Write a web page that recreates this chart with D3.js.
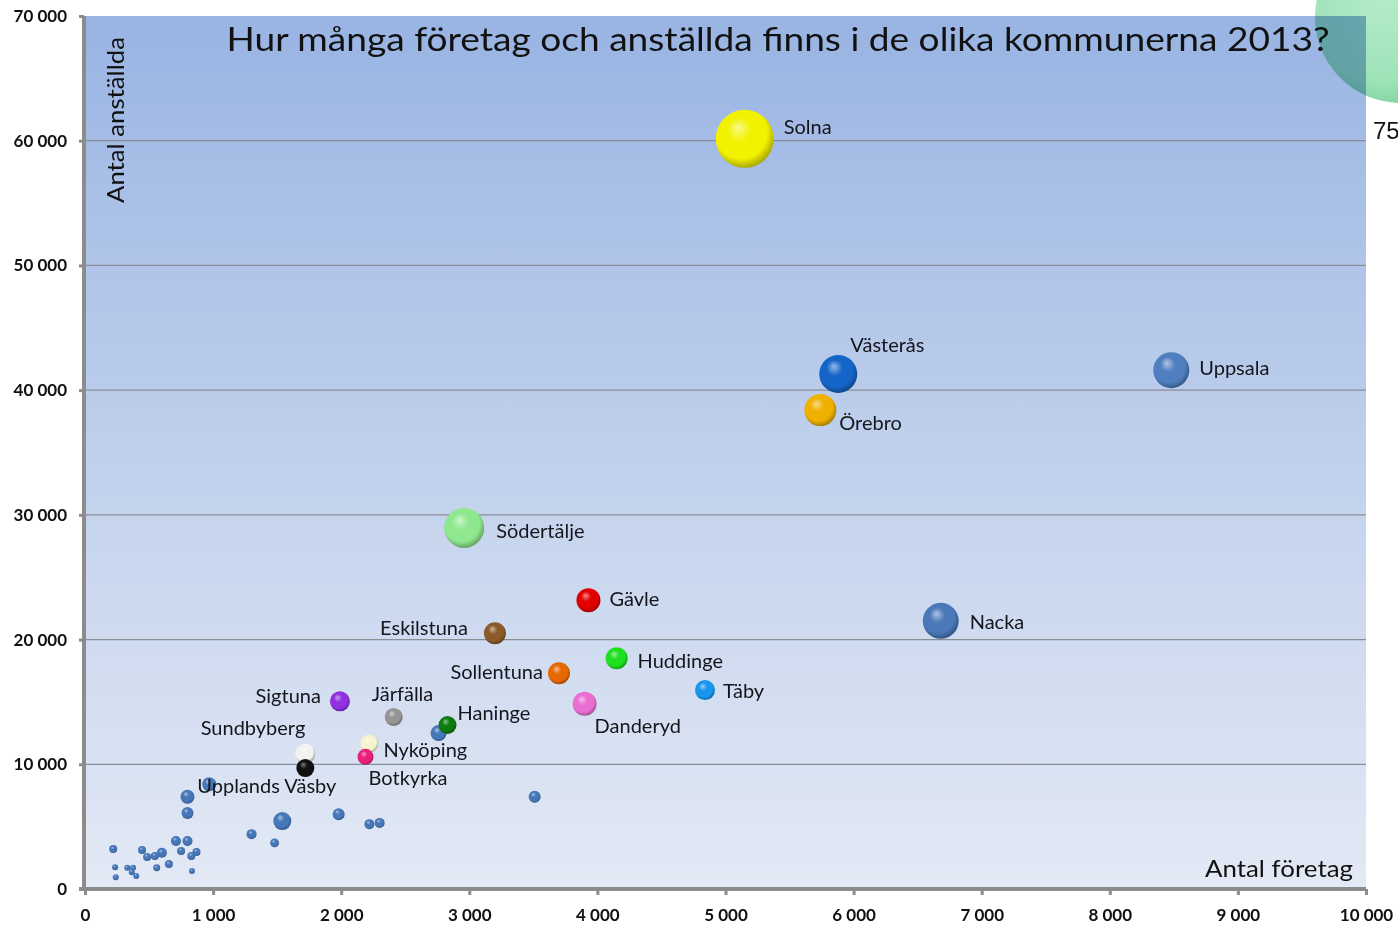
<!DOCTYPE html>
<html>
<head>
<meta charset="utf-8">
<script src="https://cdn.jsdelivr.net/npm/d3@7"></script>
<style>
  body { margin: 0; background: #fff; }
  svg { display: block; }
</style>
</head>
<body>
<div id="chart"></div>
<script>
const width = 1398,
      height = 925;
const margin = {top: 16, right: 32, bottom: 36, left: 85};
const innerWidth = width - margin.left - margin.right,
      innerHeight = height - margin.top - margin.bottom;

// kommuner med etikett
const kommuner = ["Solna", "Uppsala", "Södertälje", "Nacka", "Örebro", "Västerås",
                  "Eskilstuna", "Gävle", "Huddinge", "Sollentuna", "Täby", "Danderyd",
                  "Sigtuna", "Järfälla", "Haninge", "Sundbyberg", "Upplands Väsby",
                  "Nyköping", "Botkyrka"];
const antalForetag = [5150, 8480, 2960, 6680, 5740, 5880,
                      3200, 3930, 4150, 3700, 4840, 3900,
                      1990, 2410, 2830, 1720, 1720,
                      2220, 2190];
const antalAnstallda = [60150, 41600, 28950, 21500, 38400, 41300,
                        20500, 23150, 18500, 17300, 15950, 14850,
                        15050, 13800, 13150, 10850, 9700,
                        11650, 10600];
const storlek = [841, 324, 400, 324, 256, 361,
                 121, 144, 121, 121, 100, 144,
                 100, 81, 81, 100, 81,
                 81, 64];
const farger = ["#f2f200", "#4f7fc0", "#8fe88f", "#4a78b8", "#f0b000", "#1565c8",
                "#8a5a2a", "#e00000", "#1ee01e", "#e66800", "#1896ee", "#ea6ed2",
                "#9030e0", "#959595", "#0f7a0f", "#f2f2f2", "#111111",
                "#f6f4cc", "#e8207c"];

// övriga kommuner utan etikett
const ovrigaForetag = [2760, 970, 800, 800, 1540, 1980, 2220, 2300, 3510, 1300, 1480,
                       710, 800, 750, 870, 830, 600, 545, 485, 445, 220, 655, 560,
                       235, 240, 330, 375, 365, 400, 835];
const ovrigaAnstallda = [12500, 8400, 7400, 6100, 5450, 6000, 5200, 5300, 7400, 4400, 3700,
                         3850, 3850, 3050, 2970, 2650, 2900, 2650, 2570, 3130, 3200, 2000, 1700,
                         1750, 950, 1700, 1700, 1350, 1050, 1450];
const ovrigaStorlek = [64, 49, 49, 36, 81, 36, 25, 25, 36, 25, 20,
                       25, 25, 16, 16, 16, 25, 16, 16, 16, 16, 16, 12,
                       9, 9, 9, 9, 9, 9, 9];

const xTicks = [0, 1000, 2000, 3000, 4000, 5000, 6000, 7000, 8000, 9000, 10000];
const yTicks = [0, 10000, 20000, 30000, 40000, 50000, 60000, 70000];

const etiketter = {
  "Solna": [39, -5, "start"], "Uppsala": [28, 5, "start"], "Södertälje": [32, 10, "start"],
  "Nacka": [29, 8, "start"], "Örebro": [19, 20, "start"], "Västerås": [12, -22, "start"],
  "Eskilstuna": [-27, 2, "end"], "Gävle": [21, 6, "start"], "Huddinge": [21, 10, "start"],
  "Sollentuna": [-16, 6, "end"], "Täby": [18, 8, "start"], "Danderyd": [10, 29, "start"],
  "Sigtuna": [-19, 2, "end"], "Järfälla": [-22, -16, "start"], "Haninge": [10, -5, "start"],
  "Sundbyberg": [0, -19, "end"], "Upplands Väsby": [31, 25, "end"],
  "Nyköping": [14, 13, "start"], "Botkyrka": [3, 28, "start"]
};

const locale = d3.formatLocale({decimal: ",", thousands: " ", grouping: [3], currency: ["", ""]});
const fmt = locale.format(",");

const svg = d3.select("#chart")
  .append("svg")
  .attr("width", width)
  .attr("height", height);

const defs = svg.append("defs");

const bg = defs.append("linearGradient")
  .attr("id", "plotbg")
  .attr("x1", 0).attr("y1", 0).attr("x2", 0).attr("y2", 1);
bg.append("stop").attr("offset", "0%").attr("stop-color", "#99b4e3");
bg.append("stop").attr("offset", "55%").attr("stop-color", "#c4d3ed");
bg.append("stop").attr("offset", "100%").attr("stop-color", "#e3e9f5");

const sphere = (id, c) => {
  const g = defs.append("radialGradient")
    .attr("id", id)
    .attr("cx", "45%").attr("cy", "42%").attr("r", "60%")
    .attr("fx", "38%").attr("fy", "30%");
  const base = d3.color(c);
  const light = d3.interpolateRgb(c, "#ffffff")(c === "#111111" ? 0.45 : 0.55);
  const dark = c === "#f2f2f2" ? "#9a9a9a" : base.darker(c === "#111111" ? 0 : 1.1).formatHex();
  g.append("stop").attr("offset", "0%").attr("stop-color", light);
  g.append("stop").attr("offset", "35%").attr("stop-color", c);
  g.append("stop").attr("offset", "75%").attr("stop-color", c);
  g.append("stop").attr("offset", "100%").attr("stop-color", dark);
};
farger.forEach((c, i) => sphere("s" + i, c));
sphere("sblue", "#4677b8");

const green = defs.append("radialGradient").attr("id", "gronboll")
  .attr("cx", "40%").attr("cy", "40%").attr("r", "60%");
green.append("stop").attr("offset", "0%").attr("stop-color", "#b4ecc8");
green.append("stop").attr("offset", "80%").attr("stop-color", "#9ee2b8");
green.append("stop").attr("offset", "100%").attr("stop-color", "#86d6a6");

const g = svg.append("g")
  .attr("transform", `translate(${margin.left}, ${margin.top})`);

g.append("rect")
  .attr("width", innerWidth)
  .attr("height", innerHeight)
  .attr("fill", "url(#plotbg)");

var x = d3.scaleLinear()
  .domain([0, 10000])
  .range([0, innerWidth]);

var y = d3.scaleLinear()
  .domain([0, 70000])
  .range([innerHeight, 0]);

var r = d3.scaleSqrt()
  .domain([0, 841])
  .range([0, 29]);

// stödlinjer
g.append("g")
  .selectAll("line")
  .data(yTicks.filter(d => d > 0 && d < 70000))
  .enter().append("line")
  .attr("x1", 0).attr("x2", innerWidth)
  .attr("y1", d => y(d)).attr("y2", d => y(d))
  .attr("stroke", "#8a8d93")
  .attr("stroke-width", 1.2);

// titel
g.append("text")
  .attr("x", 693)
  .attr("y", 35)
  .attr("text-anchor", "middle")
  .attr("textLength", 1103)
  .attr("lengthAdjust", "spacingAndGlyphs")
  .style("font-family", "Lato, 'Open Sans', sans-serif")
  .style("font-size", "33px")
  .attr("fill", "#111")
  .text("Hur många företag och anställda finns i de olika kommunerna 2013?");

g.append("text")
  .attr("transform", "rotate(-90)")
  .attr("x", -(203 - margin.top))
  .attr("y", 39)
  .attr("textLength", 166)
  .attr("lengthAdjust", "spacingAndGlyphs")
  .style("font-family", "Lato, 'Open Sans', sans-serif")
  .style("font-size", "23px")
  .attr("fill", "#111")
  .text("Antal anställda");

g.append("text")
  .attr("x", innerWidth - 13)
  .attr("y", 861)
  .attr("text-anchor", "end")
  .attr("textLength", 148)
  .attr("lengthAdjust", "spacingAndGlyphs")
  .style("font-family", "Lato, 'Open Sans', sans-serif")
  .style("font-size", "23px")
  .attr("fill", "#111")
  .text("Antal företag");

// övriga bubblor
g.append("g")
  .selectAll("circle")
  .data(ovrigaForetag.map((f, i) => ({f: f, a: ovrigaAnstallda[i], s: ovrigaStorlek[i]})))
  .enter().append("circle")
  .attr("cx", d => x(d.f))
  .attr("cy", d => y(d.a))
  .attr("r", d => r(d.s))
  .attr("fill", "url(#sblue)");

const data = kommuner.map((k, i) => ({
  namn: k, f: antalForetag[i], a: antalAnstallda[i], s: storlek[i], i: i
}));

g.append("g")
  .selectAll("circle")
  .data(data)
  .enter().append("circle")
  .attr("cx", d => x(d.f))
  .attr("cy", d => y(d.a))
  .attr("r", d => r(d.s))
  .attr("fill", d => `url(#s${d.i})`);

g.append("g")
  .selectAll("text")
  .data(data)
  .enter().append("text")
  .attr("x", d => x(d.f) + etiketter[d.namn][0])
  .attr("y", d => y(d.a) + etiketter[d.namn][1])
  .attr("text-anchor", d => etiketter[d.namn][2])
  .style("font-family", "Lato, 'Open Sans', sans-serif")
  .style("font-size", "20px")
  .attr("fill", "#15161c")
  .text(d => d.namn);

// axlar
const xAxis = g.append("g")
  .attr("transform", `translate(0, ${innerHeight})`)
  .call(d3.axisBottom(x).tickValues(xTicks).tickFormat(fmt).tickSizeOuter(0).tickSize(6).tickPadding(11));

const yAxis = g.append("g")
  .attr("transform", "translate(-1, 0)")
  .call(d3.axisLeft(y).tickValues(yTicks).tickFormat(fmt).tickSizeOuter(0).tickSize(5).tickPadding(12));

[xAxis, yAxis].forEach(a => {
  a.select(".domain").attr("stroke", "#8c8c8c").attr("stroke-width", 4);
  a.selectAll(".tick line").attr("stroke", "#8c8c8c").attr("stroke-width", 3);
  a.selectAll(".tick text")
    .style("font-family", "Lato, 'Open Sans', sans-serif")
    .style("font-weight", "bold")
    .style("font-size", "17px")
    .attr("fill", "#111");
});
xAxis.selectAll(".tick text").attr("dy", "0.9em");
yAxis.select(".domain").attr("d", `M0,${innerHeight + 2}V0`);
xAxis.select(".domain").attr("d", `M-6,0H${innerWidth}`);

// avklippt bild uppe till höger
svg.append("circle")
  .attr("cx", 1401)
  .attr("cy", 17)
  .attr("r", 86)
  .attr("fill", "url(#gronboll)")
  .style("mix-blend-mode", "multiply");

svg.append("text")
  .attr("x", 1357)
  .attr("y", 0)
  .style("font-family", "'Liberation Sans', Arial, sans-serif")
  .style("font-weight", "bold")
  .style("font-size", "30px")
  .attr("fill", "#1a1a1a")
  .text("St");

svg.append("text")
  .attr("x", 1373)
  .attr("y", 139)
  .style("font-family", "'Liberation Sans', Arial, sans-serif")
  .style("font-size", "24px")
  .attr("fill", "#111")
  .text("75");
</script>
</body>
</html>
